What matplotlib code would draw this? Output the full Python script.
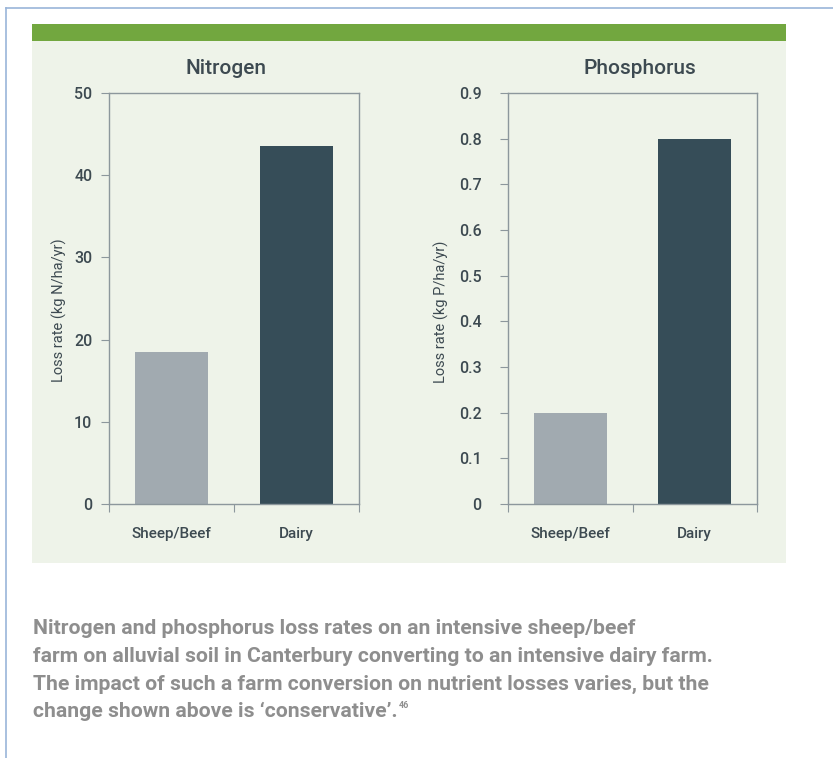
import matplotlib
matplotlib.use("Agg")
import matplotlib.pyplot as plt
from matplotlib.patches import Rectangle
from matplotlib.lines import Line2D

categories = ["Sheep/Beef", "Dairy"]
nitrogen = [18.5, 43.6]
phosphorus = [0.2, 0.8]
n_ticks = [0, 10, 20, 30, 40, 50]
p_ticks = [0, 0.1, 0.2, 0.3, 0.4, 0.5, 0.6, 0.7, 0.8, 0.9]
p_ticklabels = ["0", "0.1", "0.2", "0.3", "0.4", "0.5", "0.6", "0.7", "0.8", "0.9"]
caption_lines = [
    "Nitrogen and phosphorus loss rates on an intensive sheep/beef",
    "farm on alluvial soil in Canterbury converting to an intensive dairy farm.",
    "The impact of such a farm conversion on nutrient losses varies, but the",
    "change shown above is \u2018conservative\u2019.",
]

FONT = ["Roboto", "DejaVu Sans"]
plt.rcParams['font.family'] = FONT

W, H = 833, 758
fig = plt.figure(figsize=(W / 100, H / 100), dpi=100)
fig.patch.set_facecolor("white")

def fx(x):
    return x / W

def fy(y):
    return 1 - y / H

# outer blue frame
fig.add_artist(Line2D([fx(6), fx(833)], [fy(8), fy(8)], color="#9ab5d9", lw=1.2))
fig.add_artist(Line2D([fx(6), fx(6)], [fy(8), fy(758)], color="#9ab5d9", lw=1.2))
# panel background
fig.add_artist(Rectangle((fx(32), fy(563)), fx(786) - fx(32), fy(41) - fy(563),
                         transform=fig.transFigure, facecolor="#eef3e9", edgecolor="none", zorder=0))
fig.add_artist(Rectangle((fx(32), fy(41)), fx(786) - fx(32), fy(24) - fy(41),
                         transform=fig.transFigure, facecolor="#72a73f", edgecolor="none", zorder=0))

bar_colors = ["#a1aab0", "#364d58"]
text_col = "#3d4a51"
spine_col = "#8c979c"

def make_axes(left, right, title, values, ticks, ticklabels, ylabel, ymax, title_x, lab_xy, pad):
    ax = fig.add_axes([fx(left), fy(504), fx(right) - fx(left), fy(93) - fy(504)])
    ax.set_facecolor("none")
    x = list(range(len(categories)))
    ax.bar(x, values, width=0.59, color=bar_colors, zorder=2)
    ax.set_xlim(-0.5, 1.5)
    ax.set_ylim(0, ymax)
    ax.set_yticks(ticks)
    ax.set_yticklabels(ticklabels, fontweight="medium")
    ax.set_xticks([-0.5, 0.5, 1.5])
    ax.set_xticklabels([])
    for i, c in enumerate(categories):
        ax.text(i, -0.072 * ymax, c, ha="center", va="center", fontsize=11,
                color=text_col, fontweight="medium")
    for s in ax.spines.values():
        s.set_color(spine_col)
        s.set_linewidth(1.0)
    ax.tick_params(axis="y", direction="out", length=6, color=spine_col,
                   labelcolor=text_col, labelsize=11.5, pad=pad)
    ax.tick_params(axis="x", direction="out", length=6, color=spine_col)
    ax.set_ylabel(ylabel, fontsize=10.5, color=text_col)
    ax.yaxis.set_label_coords(*lab_xy)
    fig.text(fx(title_x), fy(68), title, ha="center", va="center", fontsize=15,
             color=text_col, fontweight="medium")
    return ax

axN = make_axes(109, 359, "Nitrogen", nitrogen, n_ticks, [str(t) for t in n_ticks],
                "Loss rate (kg N/ha/yr)", 50, 226, (-0.168, 0.472), 6)
axP = make_axes(508, 757, "Phosphorus", phosphorus, p_ticks, p_ticklabels,
                "Loss rate (kg P/ha/yr)", 0.9, 640, (-0.237, 0.467), 13)

cap_y = [628, 656, 684, 711]
cap_texts = []
for line, y in zip(caption_lines, cap_y):
    t = fig.text(fx(33), fy(y), line, ha="left", va="center", fontsize=15.2,
                 fontweight="bold", color="#8e8e8e")
    cap_texts.append(t)

fig.canvas.draw()
bb = cap_texts[-1].get_window_extent()
fig.text(bb.x1 / W + 0.001, fy(705), "46", ha="left", va="center", fontsize=6.5,
         fontweight="bold", color="#8e8e8e")

fig.savefig("out.png", dpi=100, facecolor="white")
